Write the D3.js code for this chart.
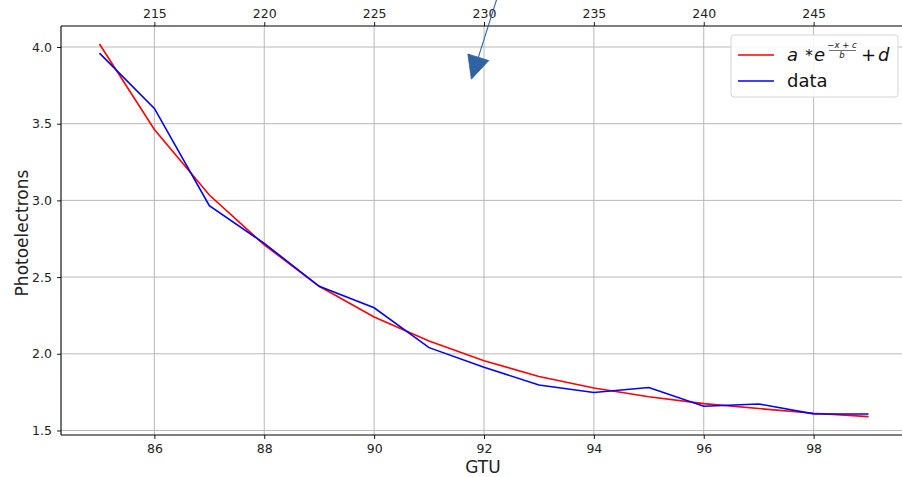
<!DOCTYPE html>
<html>
<head>
<meta charset="utf-8">
<script src="https://cdn.jsdelivr.net/npm/d3@7"></script>
<style>
  html, body { margin: 0; padding: 0; background: #fff; }
  svg { display: block; font-family: "DejaVu Sans", sans-serif; }
</style>
</head>
<body>
<svg id="chart" width="902" height="477"></svg>
<script>
// GTU index and measured photoelectron counts
const gtu = [85, 86, 87, 88, 89, 90, 91, 92, 93, 94, 95, 96, 97, 98, 99];
const measured = [3.96, 3.60, 2.965, 2.72, 2.44, 2.30, 2.04, 1.912, 1.797, 1.748, 1.78, 1.658, 1.673, 1.608, 1.607];
// exponential fit a*exp((-x+c)/b)+d evaluated at the same GTUs
const fitted = [4.02, 3.462, 3.035, 2.71, 2.44, 2.24, 2.083, 1.955, 1.852, 1.777, 1.72, 1.675, 1.643, 1.612, 1.59];

const xTicks = [86, 88, 90, 92, 94, 96, 98];
const yTicks = [1.5, 2.0, 2.5, 3.0, 3.5, 4.0];
const topTicks = [215, 220, 225, 230, 235, 240, 245];

const svg = d3.select("#chart");
const M = { left: 61, top: 26, right: 907, bottom: 435 };

const x = d3.scaleLinear().domain([84.3, 99.7]).range([M.left, M.right]);
const xTop = d3.scaleLinear().domain([84.3 * 2.5, 99.7 * 2.5]).range([M.left, M.right]);
const y = d3.scaleLinear().domain([1.4705, 4.137]).range([M.bottom, M.top]);

const gridColor = "#b0b0b0";

// grid
const grid = svg.append("g");
grid.selectAll("line.v").data(xTicks).join("line")
  .attr("x1", d => x(d)).attr("x2", d => x(d))
  .attr("y1", M.top).attr("y2", M.bottom)
  .attr("stroke", gridColor).attr("stroke-width", 0.9);
grid.selectAll("line.h").data(yTicks).join("line")
  .attr("x1", M.left).attr("x2", M.right)
  .attr("y1", d => y(d)).attr("y2", d => y(d))
  .attr("stroke", gridColor).attr("stroke-width", 0.9);

// series
const line = d3.line().x((d, i) => x(gtu[i])).y(d => y(d));
svg.append("path").datum(fitted).attr("d", line)
  .attr("fill", "none").attr("stroke", "#ff0000").attr("stroke-width", 1.6);
svg.append("path").datum(measured).attr("d", line)
  .attr("fill", "none").attr("stroke", "#0000ff").attr("stroke-width", 1.6);

// axes
function styleAxis(g) {
  g.selectAll("text").attr("font-size", 12.5).attr("fill", "#222").attr("font-family", "DejaVu Sans, sans-serif");
  g.selectAll("line").attr("stroke", "#000").attr("stroke-width", 0.9);
  g.select(".domain").remove();
}
svg.append("g").attr("transform", `translate(0,${M.bottom})`)
  .call(d3.axisBottom(x).tickValues(xTicks).tickFormat(d3.format("d")).tickSize(4).tickPadding(5))
  .call(styleAxis);
svg.append("g").attr("transform", `translate(${M.left},0)`)
  .call(d3.axisLeft(y).tickValues(yTicks).tickFormat(d3.format(".1f")).tickSize(4).tickPadding(5))
  .call(styleAxis);
svg.append("g").attr("transform", `translate(0,${M.top})`)
  .call(d3.axisTop(xTop).tickValues(topTicks).tickFormat(d3.format("d")).tickSize(4).tickPadding(4))
  .call(styleAxis);

// spines
const spine = svg.append("g").attr("stroke", "#000").attr("stroke-width", 1.1);
spine.append("line").attr("x1", M.left).attr("x2", M.left).attr("y1", M.top).attr("y2", M.bottom);
spine.append("line").attr("x1", M.left).attr("x2", M.right).attr("y1", M.bottom).attr("y2", M.bottom);
spine.append("line").attr("x1", M.left).attr("x2", M.right).attr("y1", M.top).attr("y2", M.top);

// axis labels
svg.append("text").attr("x", (M.left + 905) / 2).attr("y", 473)
  .attr("text-anchor", "middle").attr("font-size", 17).attr("fill", "#222").text("GTU");
svg.append("text").attr("transform", `translate(28,233) rotate(-90)`)
  .attr("text-anchor", "middle").attr("font-size", 17).attr("fill", "#222").text("Photoelectrons");

// annotation arrow
const arrowColor = "#2f62a3";
const tip = [x(91.77), y(3.79)];
const tail = [x(92.25), -4];
const ang = Math.atan2(tip[1] - tail[1], tip[0] - tail[0]);
const headLen = 23, headHalf = 11;
const base = [tip[0] - headLen * Math.cos(ang), tip[1] - headLen * Math.sin(ang)];
svg.append("line")
  .attr("x1", tail[0]).attr("y1", tail[1]).attr("x2", base[0]).attr("y2", base[1])
  .attr("stroke", arrowColor).attr("stroke-width", 1.1);
svg.append("path")
  .attr("d", d3.line()([
    tip,
    [base[0] + headHalf * Math.sin(ang), base[1] - headHalf * Math.cos(ang)],
    [base[0] - headHalf * Math.sin(ang), base[1] + headHalf * Math.cos(ang)]
  ]) + "Z")
  .attr("fill", arrowColor).attr("stroke", arrowColor).attr("stroke-width", 0.8);

// legend
const lg = svg.append("g");
lg.append("rect").attr("x", 731).attr("y", 35).attr("width", 167).attr("height", 62)
  .attr("rx", 3).attr("fill", "#fff").attr("fill-opacity", 0.85)
  .attr("stroke", "#d5d5d5").attr("stroke-width", 1);
lg.append("line").attr("x1", 738).attr("x2", 774).attr("y1", 55).attr("y2", 55)
  .attr("stroke", "#ff0000").attr("stroke-width", 1.6);
lg.append("line").attr("x1", 738).attr("x2", 774).attr("y1", 81).attr("y2", 81)
  .attr("stroke", "#0000ff").attr("stroke-width", 1.6);

// legend label: a ∗ e^{(−x + c)/b} + d
const fs = 18;
const mt = lg.append("g").attr("fill", "#111");
mt.append("text").attr("x", 787).attr("y", 61).attr("font-size", fs).attr("font-style", "italic").text("a");
mt.append("text").attr("x", 809).attr("y", 61).attr("font-size", 15).attr("text-anchor", "middle").text("*");
mt.append("text").attr("x", 814).attr("y", 61).attr("font-size", fs).attr("font-style", "italic").text("e");
mt.append("text").attr("x", 842).attr("y", 47.5).attr("font-size", 8.5).attr("text-anchor", "middle")
  .attr("font-style", "italic").text("−x + c");
mt.append("line").attr("x1", 829).attr("x2", 856).attr("y1", 50.5).attr("y2", 50.5)
  .attr("stroke", "#111").attr("stroke-width", 0.6);
mt.append("text").attr("x", 842).attr("y", 58).attr("font-size", 8.5).attr("text-anchor", "middle")
  .attr("font-style", "italic").text("b");
mt.append("text").attr("x", 861).attr("y", 61).attr("font-size", fs).text("+");
mt.append("text").attr("x", 878).attr("y", 61).attr("font-size", fs).attr("font-style", "italic").text("d");
lg.append("text").attr("x", 787).attr("y", 87).attr("font-size", fs).attr("fill", "#111").text("data");
</script>
</body>
</html>
